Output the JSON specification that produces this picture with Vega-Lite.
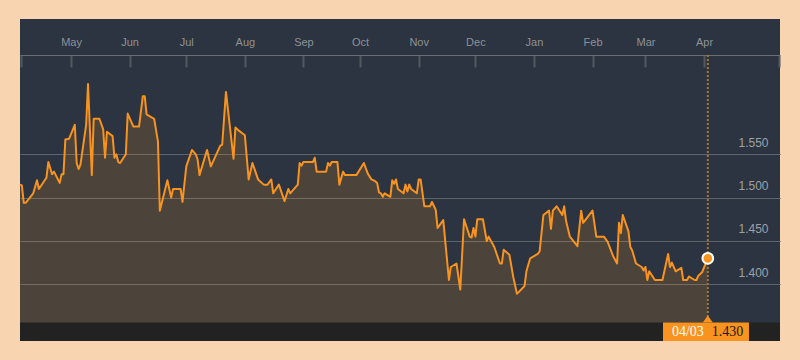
{
  "$schema": "https://vega.github.io/schema/vega-lite/v6.json",
  "width": 760,
  "height": 322,
  "autosize": "none",
  "padding": {"left": 20, "right": 20, "top": 19, "bottom": 19},
  "background": "#f8d5b0",
  "view": {"fill": "#2b3440", "stroke": null},
  "config": {"font": "Liberation Sans"},
  "datasets": {
    "price": [
      {"date": "2017-04-04", "value": 1.515},
      {"date": "2017-04-05", "value": 1.514},
      {"date": "2017-04-06", "value": 1.494},
      {"date": "2017-04-07", "value": 1.494},
      {"date": "2017-04-11", "value": 1.505},
      {"date": "2017-04-13", "value": 1.520},
      {"date": "2017-04-14", "value": 1.510},
      {"date": "2017-04-18", "value": 1.523},
      {"date": "2017-04-19", "value": 1.541},
      {"date": "2017-04-21", "value": 1.527},
      {"date": "2017-04-22", "value": 1.530},
      {"date": "2017-04-25", "value": 1.517},
      {"date": "2017-04-26", "value": 1.527},
      {"date": "2017-04-27", "value": 1.527},
      {"date": "2017-04-28", "value": 1.567},
      {"date": "2017-04-30", "value": 1.568},
      {"date": "2017-05-03", "value": 1.584},
      {"date": "2017-05-04", "value": 1.540},
      {"date": "2017-05-05", "value": 1.533},
      {"date": "2017-05-06", "value": 1.538},
      {"date": "2017-05-09", "value": 1.584},
      {"date": "2017-05-10", "value": 1.631},
      {"date": "2017-05-12", "value": 1.526},
      {"date": "2017-05-13", "value": 1.591},
      {"date": "2017-05-16", "value": 1.591},
      {"date": "2017-05-18", "value": 1.579},
      {"date": "2017-05-19", "value": 1.546},
      {"date": "2017-05-20", "value": 1.576},
      {"date": "2017-05-23", "value": 1.571},
      {"date": "2017-05-24", "value": 1.546},
      {"date": "2017-05-25", "value": 1.550},
      {"date": "2017-05-26", "value": 1.541},
      {"date": "2017-05-27", "value": 1.540},
      {"date": "2017-05-30", "value": 1.550},
      {"date": "2017-05-31", "value": 1.597},
      {"date": "2017-06-03", "value": 1.582},
      {"date": "2017-06-06", "value": 1.582},
      {"date": "2017-06-08", "value": 1.617},
      {"date": "2017-06-09", "value": 1.617},
      {"date": "2017-06-10", "value": 1.596},
      {"date": "2017-06-14", "value": 1.591},
      {"date": "2017-06-16", "value": 1.565},
      {"date": "2017-06-17", "value": 1.485},
      {"date": "2017-06-21", "value": 1.520},
      {"date": "2017-06-23", "value": 1.500},
      {"date": "2017-06-24", "value": 1.510},
      {"date": "2017-06-28", "value": 1.510},
      {"date": "2017-06-29", "value": 1.495},
      {"date": "2017-07-01", "value": 1.536},
      {"date": "2017-07-04", "value": 1.555},
      {"date": "2017-07-06", "value": 1.550},
      {"date": "2017-07-07", "value": 1.544},
      {"date": "2017-07-08", "value": 1.526},
      {"date": "2017-07-12", "value": 1.555},
      {"date": "2017-07-14", "value": 1.536},
      {"date": "2017-07-19", "value": 1.560},
      {"date": "2017-07-20", "value": 1.561},
      {"date": "2017-07-22", "value": 1.622},
      {"date": "2017-07-26", "value": 1.545},
      {"date": "2017-07-27", "value": 1.581},
      {"date": "2017-07-29", "value": 1.577},
      {"date": "2017-08-01", "value": 1.572},
      {"date": "2017-08-03", "value": 1.521},
      {"date": "2017-08-05", "value": 1.540},
      {"date": "2017-08-08", "value": 1.521},
      {"date": "2017-08-11", "value": 1.515},
      {"date": "2017-08-13", "value": 1.515},
      {"date": "2017-08-15", "value": 1.521},
      {"date": "2017-08-16", "value": 1.505},
      {"date": "2017-08-19", "value": 1.515},
      {"date": "2017-08-22", "value": 1.496},
      {"date": "2017-08-24", "value": 1.510},
      {"date": "2017-08-25", "value": 1.505},
      {"date": "2017-08-29", "value": 1.515},
      {"date": "2017-08-30", "value": 1.540},
      {"date": "2017-08-31", "value": 1.537},
      {"date": "2017-09-01", "value": 1.541},
      {"date": "2017-09-06", "value": 1.541},
      {"date": "2017-09-07", "value": 1.546},
      {"date": "2017-09-08", "value": 1.530},
      {"date": "2017-09-13", "value": 1.530},
      {"date": "2017-09-14", "value": 1.540},
      {"date": "2017-09-15", "value": 1.537},
      {"date": "2017-09-16", "value": 1.541},
      {"date": "2017-09-19", "value": 1.541},
      {"date": "2017-09-20", "value": 1.515},
      {"date": "2017-09-22", "value": 1.530},
      {"date": "2017-09-23", "value": 1.526},
      {"date": "2017-09-29", "value": 1.526},
      {"date": "2017-10-03", "value": 1.540},
      {"date": "2017-10-05", "value": 1.528},
      {"date": "2017-10-07", "value": 1.521},
      {"date": "2017-10-09", "value": 1.519},
      {"date": "2017-10-10", "value": 1.517},
      {"date": "2017-10-11", "value": 1.506},
      {"date": "2017-10-12", "value": 1.505},
      {"date": "2017-10-13", "value": 1.501},
      {"date": "2017-10-14", "value": 1.505},
      {"date": "2017-10-17", "value": 1.501},
      {"date": "2017-10-18", "value": 1.520},
      {"date": "2017-10-19", "value": 1.516},
      {"date": "2017-10-20", "value": 1.521},
      {"date": "2017-10-21", "value": 1.510},
      {"date": "2017-10-24", "value": 1.505},
      {"date": "2017-10-25", "value": 1.515},
      {"date": "2017-10-26", "value": 1.507},
      {"date": "2017-10-27", "value": 1.515},
      {"date": "2017-10-28", "value": 1.510},
      {"date": "2017-10-31", "value": 1.505},
      {"date": "2017-11-01", "value": 1.521},
      {"date": "2017-11-02", "value": 1.521},
      {"date": "2017-11-04", "value": 1.490},
      {"date": "2017-11-07", "value": 1.490},
      {"date": "2017-11-08", "value": 1.495},
      {"date": "2017-11-10", "value": 1.486},
      {"date": "2017-11-11", "value": 1.465},
      {"date": "2017-11-14", "value": 1.474},
      {"date": "2017-11-17", "value": 1.405},
      {"date": "2017-11-18", "value": 1.420},
      {"date": "2017-11-21", "value": 1.424},
      {"date": "2017-11-23", "value": 1.394},
      {"date": "2017-11-25", "value": 1.475},
      {"date": "2017-11-28", "value": 1.455},
      {"date": "2017-11-29", "value": 1.454},
      {"date": "2017-11-30", "value": 1.465},
      {"date": "2017-12-01", "value": 1.455},
      {"date": "2017-12-02", "value": 1.475},
      {"date": "2017-12-05", "value": 1.475},
      {"date": "2017-12-07", "value": 1.450},
      {"date": "2017-12-08", "value": 1.455},
      {"date": "2017-12-11", "value": 1.443},
      {"date": "2017-12-14", "value": 1.424},
      {"date": "2017-12-15", "value": 1.424},
      {"date": "2017-12-16", "value": 1.440},
      {"date": "2017-12-19", "value": 1.434},
      {"date": "2017-12-21", "value": 1.409},
      {"date": "2017-12-23", "value": 1.389},
      {"date": "2017-12-27", "value": 1.398},
      {"date": "2017-12-28", "value": 1.415},
      {"date": "2017-12-30", "value": 1.430},
      {"date": "2018-01-03", "value": 1.435},
      {"date": "2018-01-04", "value": 1.438},
      {"date": "2018-01-06", "value": 1.480},
      {"date": "2018-01-09", "value": 1.485},
      {"date": "2018-01-10", "value": 1.464},
      {"date": "2018-01-11", "value": 1.485},
      {"date": "2018-01-13", "value": 1.490},
      {"date": "2018-01-16", "value": 1.480},
      {"date": "2018-01-17", "value": 1.490},
      {"date": "2018-01-18", "value": 1.473},
      {"date": "2018-01-20", "value": 1.455},
      {"date": "2018-01-24", "value": 1.444},
      {"date": "2018-01-26", "value": 1.485},
      {"date": "2018-01-27", "value": 1.471},
      {"date": "2018-02-01", "value": 1.485},
      {"date": "2018-02-03", "value": 1.455},
      {"date": "2018-02-07", "value": 1.455},
      {"date": "2018-02-09", "value": 1.449},
      {"date": "2018-02-12", "value": 1.432},
      {"date": "2018-02-14", "value": 1.424},
      {"date": "2018-02-15", "value": 1.471},
      {"date": "2018-02-16", "value": 1.459},
      {"date": "2018-02-17", "value": 1.480},
      {"date": "2018-02-20", "value": 1.461},
      {"date": "2018-02-21", "value": 1.443},
      {"date": "2018-02-22", "value": 1.439},
      {"date": "2018-02-24", "value": 1.424},
      {"date": "2018-02-27", "value": 1.420},
      {"date": "2018-02-28", "value": 1.416},
      {"date": "2018-03-01", "value": 1.420},
      {"date": "2018-03-02", "value": 1.405},
      {"date": "2018-03-03", "value": 1.415},
      {"date": "2018-03-06", "value": 1.405},
      {"date": "2018-03-10", "value": 1.405},
      {"date": "2018-03-13", "value": 1.435},
      {"date": "2018-03-14", "value": 1.420},
      {"date": "2018-03-15", "value": 1.425},
      {"date": "2018-03-17", "value": 1.415},
      {"date": "2018-03-20", "value": 1.419},
      {"date": "2018-03-21", "value": 1.405},
      {"date": "2018-03-23", "value": 1.405},
      {"date": "2018-03-24", "value": 1.409},
      {"date": "2018-03-27", "value": 1.405},
      {"date": "2018-03-28", "value": 1.405},
      {"date": "2018-03-29", "value": 1.410},
      {"date": "2018-03-31", "value": 1.414},
      {"date": "2018-04-03", "value": 1.430}
    ],
    "last": [
      {"date": "2018-04-03", "value": 1.430, "dateLabel": "04/03", "valueLabel": "1.430"}
    ]
  },
  "layer": [
    {
      "data": {"name": "last"},
      "mark": {"type": "rect", "color": "#222222"},
      "encoding": {
        "y": {"datum": 1.3559, "type": "quantitative"},
        "y2": {"datum": 1.3346}
      }
    },
    {
      "data": {"name": "price"},
      "mark": {
        "type": "area",
        "color": "#f7931e",
        "fillOpacity": 0.16,
        "line": {"color": "#f7931e", "strokeWidth": 2, "strokeJoin": "round"}
      },
      "encoding": {
        "x": {
          "field": "date",
          "type": "temporal",
          "scale": {
            "type": "utc",
            "domain": [
              {"year": 2017, "month": 4, "date": 4, "utc": true},
              {"year": 2018, "month": 5, "date": 11, "hours": 5, "utc": true}
            ]
          },
          "axis": {
            "orient": "top",
            "offset": -36,
            "title": null,
            "grid": false,
            "values": [
              {"year": 2017, "month": 4, "date": 4, "hours": 16, "utc": true},
              {"year": 2017, "month": 5, "date": 1, "utc": true},
              {"year": 2017, "month": 6, "date": 1, "utc": true},
              {"year": 2017, "month": 7, "date": 1, "utc": true},
              {"year": 2017, "month": 8, "date": 1, "utc": true},
              {"year": 2017, "month": 9, "date": 1, "utc": true},
              {"year": 2017, "month": 10, "date": 1, "utc": true},
              {"year": 2017, "month": 11, "date": 1, "utc": true},
              {"year": 2017, "month": 12, "date": 1, "utc": true},
              {"year": 2018, "month": 1, "date": 1, "utc": true},
              {"year": 2018, "month": 2, "date": 1, "utc": true},
              {"year": 2018, "month": 3, "date": 1, "utc": true},
              {"year": 2018, "month": 4, "date": 1, "utc": true},
              {"year": 2018, "month": 5, "date": 10, "hours": 12, "utc": true}
            ],
            "labelExpr": "datum.value < utc(2017,3,20) || datum.value > utc(2018,3,20) ? '' : utcFormat(datum.value, '%b')",
            "tickSize": -12,
            "tickWidth": 2,
            "tickColor": "#53585e",
            "domainColor": "#6b6f74",
            "domainWidth": 1,
            "labelColor": "#8e9297",
            "labelFont": "Liberation Sans",
            "labelFontSize": 11,
            "labelPadding": 25,
            "labelBaseline": "middle",
            "labelFlush": false,
            "labelOverlap": false,
            "labelBound": false
          }
        },
        "y": {
          "field": "value",
          "type": "quantitative",
          "scale": {"domain": [1.3346, 1.7061], "nice": false, "zero": false},
          "axis": {
            "orient": "right",
            "title": null,
            "values": [1.4, 1.45, 1.5, 1.55],
            "format": ".3f",
            "grid": true,
            "gridColor": "#5e646b",
            "gridWidth": 1,
            "domain": false,
            "ticks": false,
            "labelAlign": "right",
            "labelPadding": -12,
            "labelBaseline": "alphabetic",
            "labelOffset": -8,
            "labelColor": "#9da1a6",
            "labelFont": "Liberation Sans",
            "labelFontSize": 12
          }
        },
        "y2": {"datum": 1.3559}
      }
    },
    {
      "data": {"name": "last"},
      "mark": {"type": "rule", "color": "#a8792b", "strokeWidth": 2, "strokeDash": [2, 2]},
      "encoding": {
        "x": {"field": "date", "type": "temporal"},
        "y": {"datum": 1.6646, "type": "quantitative"},
        "y2": {"datum": 1.3559}
      }
    },
    {
      "data": {"name": "last"},
      "mark": {"type": "point", "shape": "circle", "filled": true, "fill": "#f7931e", "stroke": "#ffffff", "strokeWidth": 2, "size": 115, "opacity": 1},
      "encoding": {
        "x": {"field": "date", "type": "temporal"},
        "y": {"field": "value", "type": "quantitative"}
      }
    },
    {
      "data": {"name": "last"},
      "mark": {"type": "rect", "color": "#f7931e"},
      "encoding": {
        "x": {"datum": {"year": 2018, "month": 3, "date": 10, "hours": 7, "utc": true}, "type": "temporal"},
        "x2": {"datum": {"year": 2018, "month": 4, "date": 24, "hours": 19, "utc": true}},
        "y": {"datum": 1.3559, "type": "quantitative"},
        "y2": {"datum": 1.3346}
      }
    },
    {
      "data": {"name": "last"},
      "mark": {"type": "point", "shape": "M0,-0.7L1,0.7L-1,0.7Z", "filled": true, "color": "#f7931e", "size": 100, "opacity": 1, "strokeWidth": 0},
      "encoding": {
        "x": {"field": "date", "type": "temporal"},
        "y": {"datum": 1.3600, "type": "quantitative"}
      }
    },
    {
      "data": {"name": "last"},
      "mark": {"type": "text", "font": "Liberation Serif", "fontSize": 14, "color": "#ffffff", "align": "right", "baseline": "middle", "dx": -4},
      "encoding": {
        "x": {"field": "date", "type": "temporal"},
        "y": {"datum": 1.3450, "type": "quantitative"},
        "text": {"field": "dateLabel"}
      }
    },
    {
      "data": {"name": "last"},
      "mark": {"type": "text", "font": "Liberation Serif", "fontSize": 14, "color": "#1a1a1a", "align": "left", "baseline": "middle", "dx": 4},
      "encoding": {
        "x": {"field": "date", "type": "temporal"},
        "y": {"datum": 1.3450, "type": "quantitative"},
        "text": {"field": "valueLabel"}
      }
    }
  ]
}
